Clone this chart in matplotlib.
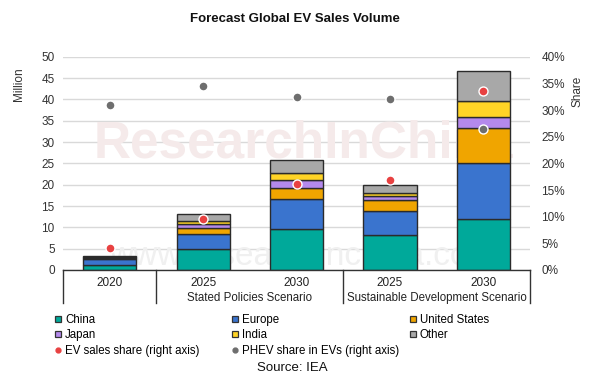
import matplotlib
matplotlib.use("Agg")
import matplotlib.pyplot as plt
from matplotlib.lines import Line2D
import numpy as np

plt.rcParams['font.family'] = ['Liberation Sans', 'DejaVu Sans']

years = ["2020", "2025", "2030", "2025", "2030"]
scenarios = ["Stated Policies Scenario", "Sustainable Development Scenario"]
regions = ["China", "Europe", "United States", "Japan", "India", "Other"]
china = [1.2, 4.85, 9.55, 8.2, 11.9]
europe = [1.4, 3.6, 7.05, 5.65, 13.3]
united_states = [0.3, 1.4, 2.7, 2.45, 8.1]
japan = [0.05, 1.0, 1.7, 1.1, 2.7]
india = [0.02, 0.7, 1.85, 0.75, 3.7]
other = [0.23, 1.5, 2.95, 1.8, 6.9]
ev_sales_share = [4.1, 9.5, 16.2, 16.8, 33.6]
phev_share = [31.0, 34.6, 32.4, 32.1, 26.5]

colors = ["#00A99A", "#3A74CE", "#F0A500", "#B489EC", "#FFD426", "#A8A8A8"]
series = [china, europe, united_states, japan, india, other]

fig = plt.figure(figsize=(5.89, 3.84), dpi=100)
ax = fig.add_axes([0.107, 0.297, 0.793, 0.555])
ax2 = ax.twinx()

x = np.arange(len(years))
bottom = np.zeros(len(years))
for vals, c in zip(series, colors):
    ax.bar(x, vals, bottom=bottom, width=0.57, color=c, edgecolor="#2b2b2b",
           linewidth=1.0, zorder=3)
    bottom += np.array(vals)

ax.set_xlim(-0.5, 4.5)
ax.set_ylim(0, 50)
ax.set_yticks(np.arange(0, 51, 5))
ax.grid(axis="y", color="#d9d9d9", linewidth=1.0, zorder=0)
ax.set_axisbelow(True)
for s in ax.spines.values():
    s.set_visible(False)
for s in ax2.spines.values():
    s.set_visible(False)
ax.tick_params(axis="y", length=0, labelsize=8.5, colors="#333333", pad=6)
ax.tick_params(axis="x", length=0, labelbottom=False)
ax.set_ylabel("Million", fontsize=8.5, color="#333333")
ax.yaxis.set_label_coords(-0.082, 0.87)

ax2.set_ylim(0, 40)
ax2.set_yticks(np.arange(0, 41, 5))
ax2.set_yticklabels([f"{v}%" for v in range(0, 41, 5)])
ax2.tick_params(axis="y", length=0, labelsize=8.5, colors="#333333", pad=8)
ax2.set_ylabel("Share", fontsize=8.5, color="#333333")
ax2.yaxis.set_label_coords(1.088, 0.84)

ax2.scatter(x, phev_share, s=42, color="#6e6e6e", edgecolor="white", linewidth=1.0, zorder=5)
ax2.scatter(x, ev_sales_share, s=42, color="#E84141", edgecolor="white", linewidth=1.0, zorder=5)
ax2.set_zorder(ax.get_zorder() + 1)
ax2.patch.set_visible(False)

# watermark
ax.text(2.07, 29.5, "ResearchInChina", fontsize=37, fontweight="bold", color="#f5eaea",
        ha="center", va="center", zorder=1, clip_on=True)
ax.text(2.07, 3.2, "www.researchinchina.com", fontsize=24, color="#f0f0f0",
        ha="center", va="center", zorder=1, clip_on=True)

# multi-level category axis
tr = ax.transAxes
ax.plot([0, 1], [0, 0], transform=tr, color="#333333", lw=1.0, clip_on=False, zorder=6)
for xv in [0, 0.2, 0.6, 1.0]:
    ax.plot([xv, xv], [0, -0.155], transform=tr, color="#333333", lw=1.0, clip_on=False)
for i, yr in enumerate(years):
    ax.text((i + 0.5) / 5, -0.06, yr, transform=tr, ha="center", va="center",
            fontsize=8.5, color="#222222")
ax.text(0.4, -0.13, scenarios[0], transform=tr, ha="center", va="center", fontsize=8.3, color="#222222")
ax.text(0.8, -0.13, scenarios[1], transform=tr, ha="center", va="center", fontsize=8.3, color="#222222")

fig.text(0.5, 0.95, "Forecast Global EV Sales Volume", ha="center", va="center",
         fontsize=9.5, fontweight="bold", color="#111111")

def sq(c):
    return Line2D([], [], marker="s", linestyle="none", markersize=5,
                  markerfacecolor=c, markeredgecolor="#333333", markeredgewidth=0.9)

def dot(c):
    return Line2D([], [], marker="o", linestyle="none", markersize=3.5,
                  markerfacecolor=c, markeredgecolor=c)

cols = [
    ([sq(colors[0]), sq(colors[3]), dot("#E84141")], ["China", "Japan", "EV sales share (right axis)"], 0.093),
    ([sq(colors[1]), sq(colors[4]), dot("#6e6e6e")], ["Europe", "India", "PHEV share in EVs (right axis)"], 0.393),
    ([sq(colors[2]), sq(colors[5])], ["United States", "Other"], 0.695),
]
for h, l, xp in cols:
    fig.legend(h, l, loc="upper left", bbox_to_anchor=(xp, 0.183), frameon=False,
               fontsize=8.3, handlelength=0.6, handletextpad=0.3, labelspacing=0.32,
               borderpad=0, borderaxespad=0)

fig.text(0.497, 0.042, "Source: IEA", ha="center", va="center", fontsize=9.5, color="#111111")

fig.savefig("out.png", dpi=100)
